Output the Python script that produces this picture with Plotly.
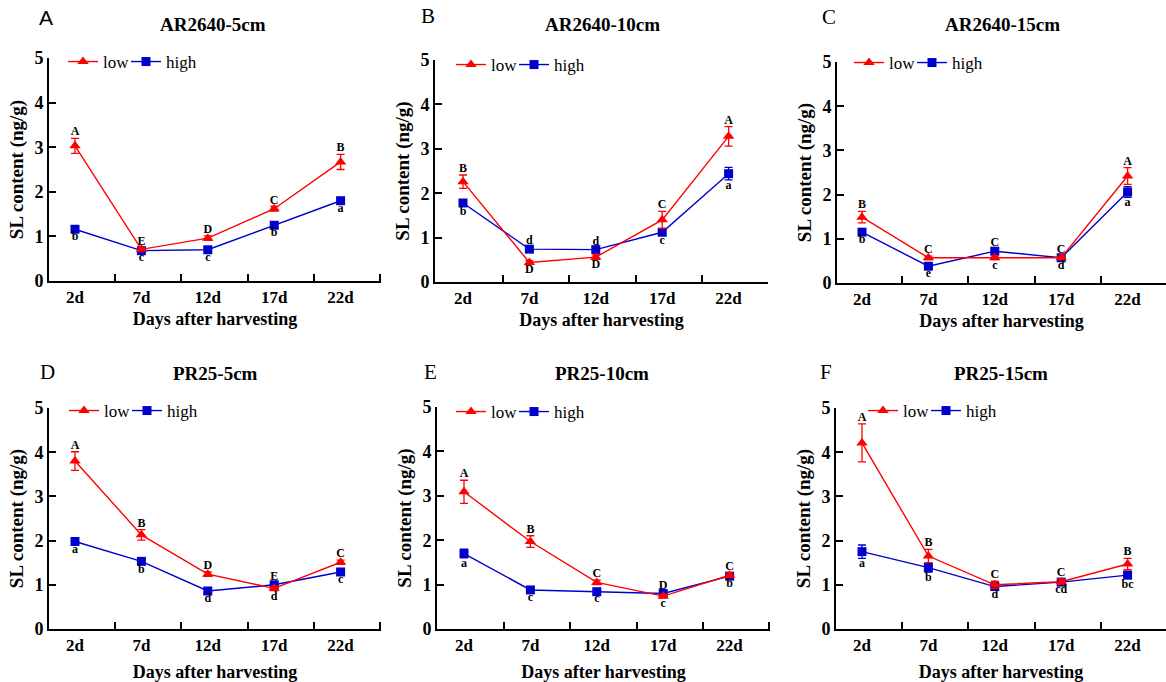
import plotly.graph_objects as go

# ---------------- data ----------------
days = ["2d", "7d", "12d", "17d", "22d"]
panel_letters = ["A", "B", "C", "D", "E", "F"]
panel_titles = ["AR2640-5cm", "AR2640-10cm", "AR2640-15cm",
                "PR25-5cm", "PR25-10cm", "PR25-15cm"]

# SL content (ng/g), "low" series
low_A = [3.03, 0.71, 0.96, 1.62, 2.67]
low_B = [2.26, 0.44, 0.56, 1.40, 3.28]
low_C = [1.49, 0.57, 0.57, 0.57, 2.42]
low_D = [3.80, 2.13, 1.24, 0.92, 1.51]
low_E = [3.09, 1.97, 1.05, 0.74, 1.21]
low_F = [4.21, 1.65, 1.00, 1.07, 1.47]
low_err_A = [0.17, 0.04, 0.05, 0.05, 0.17]
low_err_B = [0.15, 0.04, 0.05, 0.19, 0.22]
low_err_C = [0.13, 0.04, 0.04, 0.04, 0.19]
low_err_D = [0.21, 0.12, 0.05, 0.05, 0.05]
low_err_E = [0.26, 0.13, 0.05, 0.04, 0.05]
low_err_F = [0.43, 0.15, 0.08, 0.06, 0.13]

# "high" series
high_A = [1.16, 0.68, 0.70, 1.25, 1.80]
high_B = [1.78, 0.74, 0.73, 1.12, 2.44]
high_C = [1.15, 0.38, 0.72, 0.57, 2.06]
high_D = [1.98, 1.53, 0.86, 1.00, 1.29]
high_E = [1.70, 0.88, 0.84, 0.80, 1.19]
high_F = [1.75, 1.39, 0.96, 1.06, 1.22]
high_err_A = [0.05, 0.04, 0.04, 0.05, 0.05]
high_err_B = [0.06, 0.04, 0.04, 0.07, 0.14]
high_err_C = [0.05, 0.04, 0.05, 0.04, 0.12]
high_err_D = [0.06, 0.05, 0.05, 0.05, 0.05]
high_err_E = [0.10, 0.04, 0.04, 0.04, 0.05]
high_err_F = [0.15, 0.10, 0.05, 0.05, 0.08]

# significance letters and whether they sit above ("t") or below ("b")
low_sig_A = ["A", "E", "D", "C", "B"];  low_pos_A = ["t", "t", "t", "t", "t"]
low_sig_B = ["B", "D", "D", "C", "A"];  low_pos_B = ["t", "b", "b", "t", "t"]
low_sig_C = ["B", "C", "C", "C", "A"];  low_pos_C = ["t", "t", "t", "t", "t"]
low_sig_D = ["A", "B", "D", "E", "C"];  low_pos_D = ["t", "t", "t", "t", "t"]
low_sig_E = ["A", "B", "C", "D", "C"];  low_pos_E = ["t", "t", "t", "t", "t"]
low_sig_F = ["A", "B", "C", "C", "B"];  low_pos_F = ["t", "t", "t", "t", "t"]
high_sig_A = ["b", "c", "c", "b", "a"];  high_pos_A = ["b", "b", "b", "b", "b"]
high_sig_B = ["b", "d", "d", "c", "a"];  high_pos_B = ["b", "t", "t", "b", "b"]
high_sig_C = ["b", "e", "c", "d", "a"];  high_pos_C = ["b", "b", "b", "b", "b"]
high_sig_D = ["a", "b", "d", "d", "c"];  high_pos_D = ["b", "b", "b", "b", "b"]
high_sig_E = ["a", "c", "c", "c", "b"];  high_pos_E = ["b", "b", "b", "b", "b"]
high_sig_F = ["a", "b", "d", "cd", "bc"]; high_pos_F = ["b", "b", "b", "b", "b"]

y_ticks = [0, 1, 2, 3, 4, 5]

lows = [low_A, low_B, low_C, low_D, low_E, low_F]
low_errs = [low_err_A, low_err_B, low_err_C, low_err_D, low_err_E, low_err_F]
highs = [high_A, high_B, high_C, high_D, high_E, high_F]
high_errs = [high_err_A, high_err_B, high_err_C, high_err_D, high_err_E, high_err_F]
low_sigs = [low_sig_A, low_sig_B, low_sig_C, low_sig_D, low_sig_E, low_sig_F]
low_poss = [low_pos_A, low_pos_B, low_pos_C, low_pos_D, low_pos_E, low_pos_F]
high_sigs = [high_sig_A, high_sig_B, high_sig_C, high_sig_D, high_sig_E, high_sig_F]
high_poss = [high_pos_A, high_pos_B, high_pos_C, high_pos_D, high_pos_E, high_pos_F]

# ---------------- layout (pixels) ----------------
W, H = 1166, 682
# x-domain px (axis start, axis end), y px (value 5, value 0)
xdom_px = [(49, 381), (435, 768), (837, 1166), (49, 381), (437, 770), (836, 1166)]
ydom_px = [(58, 281), (60, 282), (62, 283), (408, 629), (407, 629), (408, 629)]
first_offset_px = [26, 28, 25, 26, 27, 26]
cat_px = 66.4
legend_px = [(63, 62), (451, 65), (849, 63), (64, 411), (451, 412), (863, 411)]
letter_px = [(46, 18), (428, 16), (829, 17), (47, 372), (430, 372), (826, 372)]
title_px = [(213, 25), (602, 25), (1002, 25), (215, 373), (602, 373), (1001, 373)]
letter_fonts = ["Liberation Sans", "Liberation Serif", "Liberation Serif",
                "Liberation Serif", "Liberation Serif", "Liberation Serif"]

SERIF = "Liberation Serif"
RED = "#FF0000"
BLUE = "#0000CC"

xs = list(range(len(days)))
fig = go.Figure()
annotations = []

for k in range(6):
    n = "" if k == 0 else str(k + 1)
    xa, ya = "x" + n, "y" + n
    leg = "legend" + n
    # high first so red triangles draw on top
    fig.add_trace(go.Scatter(
        x=xs, y=highs[k], xaxis=xa, yaxis=ya, name="high", legend=leg,
        legendrank=2, legendwidth=32, mode="lines+markers",
        line=dict(color=BLUE, width=1.4),
        marker=dict(symbol="square", size=9, color=BLUE),
        error_y=dict(type="data", array=high_errs[k], color=BLUE,
                     thickness=1.3, width=4),
        cliponaxis=False))
    fig.add_trace(go.Scatter(
        x=xs, y=lows[k], xaxis=xa, yaxis=ya, name="low", legend=leg,
        legendrank=1, legendwidth=18, mode="lines+markers",
        line=dict(color=RED, width=1.4),
        marker=dict(symbol="triangle-up", size=10, color=RED),
        error_y=dict(type="data", array=low_errs[k], color=RED,
                     thickness=1.3, width=4),
        cliponaxis=False))

    # significance letters
    tx, ty, tt = [], [], []
    bx, by, bt = [], [], []
    for i in xs:
        top_anchor = max(lows[k][i] + low_errs[k][i], highs[k][i] + high_errs[k][i])
        bot_anchor = min(lows[k][i] - low_errs[k][i], highs[k][i] - high_errs[k][i])
        for lab, pos in ((low_sigs[k][i], low_poss[k][i]), (high_sigs[k][i], high_poss[k][i])):
            if pos == "t":
                tx.append(i); ty.append(top_anchor); tt.append(lab)
            else:
                bx.append(i); by.append(bot_anchor); bt.append(lab)
    tf = dict(family=SERIF, size=12, color="black", weight="bold")
    fig.add_trace(go.Scatter(x=tx, y=ty, text=tt, mode="text", textposition="top center",
                             textfont=tf, xaxis=xa, yaxis=ya, showlegend=False,
                             cliponaxis=False, hoverinfo="skip"))
    fig.add_trace(go.Scatter(x=bx, y=by, text=bt, mode="text", textposition="bottom center",
                             textfont=tf, xaxis=xa, yaxis=ya, showlegend=False,
                             cliponaxis=False, hoverinfo="skip"))

    x0, x1 = xdom_px[k]
    yt, yb = ydom_px[k]
    left = -first_offset_px[k] / cat_px
    right = left + (x1 - x0) / cat_px
    bottom_row = k >= 3
    fig.update_layout({
        "xaxis" + n: dict(
            domain=[x0 / W, x1 / W], anchor=ya, range=[left, right],
            automargin=False,
            tickmode="array", tickvals=xs, ticktext=days, ticks="",
            tickfont=dict(family=SERIF, size=17, color="black", weight="bold"),
            showline=True, linewidth=2, linecolor="black",
            showgrid=False, zeroline=False,
            minor=dict(tickmode="array", tickvals=[i + 0.6 for i in xs],
                       ticks="inside", ticklen=7, tickwidth=2, tickcolor="black",
                       showgrid=False),
            title=dict(text="Days after harvesting",
                       font=dict(family=SERIF, size=18, color="black", weight="bold"),
                       standoff=11 if bottom_row else 6)),
        "yaxis" + n: dict(
            domain=[1 - yb / H, 1 - yt / H], anchor=xa, range=[0, 5],
            automargin=False,
            tickmode="array", tickvals=y_ticks, ticks="inside", ticklen=7,
            tickwidth=2, tickcolor="black",
            tickfont=dict(family=SERIF, size=18, color="black", weight="bold"),
            showline=True, linewidth=2, linecolor="black",
            showgrid=False, zeroline=False,
            title=dict(text="SL content (ng/g)",
                       font=dict(family=SERIF, size=19, color="black", weight="bold"),
                       standoff=6)),
        leg: dict(orientation="h", x=legend_px[k][0] / W, y=1 - legend_px[k][1] / H,
                  xanchor="left", yanchor="middle",
                  font=dict(family=SERIF, size=17, color="black"),
                  bgcolor="rgba(0,0,0,0)", borderwidth=0, tracegroupgap=0,
                  itemwidth=30),
    })
    annotations.append(dict(text=panel_letters[k], x=letter_px[k][0] / W,
                            y=1 - letter_px[k][1] / H, xref="paper", yref="paper",
                            showarrow=False, xanchor="center", yanchor="middle",
                            font=dict(family=letter_fonts[k], size=21, color="black")))
    annotations.append(dict(text=panel_titles[k], x=title_px[k][0] / W,
                            y=1 - title_px[k][1] / H, xref="paper", yref="paper",
                            showarrow=False, xanchor="center", yanchor="middle",
                            font=dict(family=SERIF, size=19, color="black", weight="bold")))

fig.update_layout(template="none", width=W, height=H,
                  margin=dict(l=0, r=0, t=0, b=0, autoexpand=False),
                  paper_bgcolor="white", plot_bgcolor="white",
                  annotations=annotations, showlegend=True)
fig.write_html("out.html", config={"displayModeBar": False},
               post_script="document.body.style.margin='0';document.body.style.overflow='hidden';")
